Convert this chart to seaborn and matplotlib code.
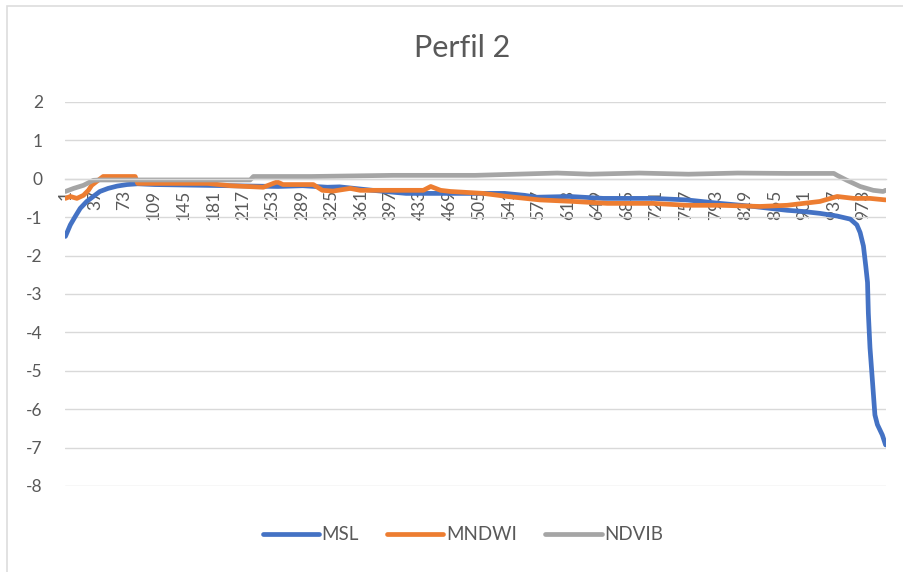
import matplotlib
matplotlib.use("Agg")
import matplotlib.pyplot as plt
import pandas as pd
import seaborn as sns
from matplotlib.patches import Rectangle
from matplotlib.lines import Line2D

# ---- data -----------------------------------------------------------------
title = "Perfil 2"
series_names = ["MSL", "MNDWI", "NDVIB"]
series_colors = ["#4472C4", "#ED7D31", "#A5A5A5"]
n_points = 1000

msl_cat = [1, 7, 13, 19, 27, 35, 43, 53, 64, 76, 89, 110, 140, 170, 200, 230,
           260, 290, 320, 335, 375, 416, 455, 495, 536, 560, 575, 615, 656,
           677, 717, 758, 798, 839, 859, 880, 899, 920, 941, 957, 965, 969,
           973, 976, 978, 979, 981, 984, 987, 990, 996, 1000]
msl_val = [-1.50, -1.20, -0.98, -0.77, -0.59, -0.46, -0.33, -0.25, -0.19,
           -0.15, -0.13, -0.15, -0.16, -0.17, -0.18, -0.19, -0.20, -0.18,
           -0.22, -0.21, -0.30, -0.38, -0.38, -0.38, -0.38, -0.43, -0.48,
           -0.46, -0.51, -0.51, -0.51, -0.55, -0.64, -0.72, -0.77, -0.82,
           -0.85, -0.90, -0.97, -1.05, -1.20, -1.40, -1.75, -2.30, -2.70,
           -3.50, -4.40, -5.27, -6.15, -6.40, -6.67, -6.93]

mndwi_cat = [1, 7, 15, 23, 29, 33, 39, 47, 86, 89, 174, 202, 242, 259, 266,
             303, 314, 327, 348, 360, 437, 446, 458, 470, 510, 539, 579, 620,
             661, 701, 717, 758, 799, 847, 880, 920, 941, 961, 981, 1000]
mndwi_val = [-0.51, -0.46, -0.51, -0.43, -0.30, -0.17, -0.07, 0.06, 0.06,
             -0.12, -0.12, -0.18, -0.22, -0.08, -0.15, -0.15, -0.30, -0.32,
             -0.25, -0.30, -0.30, -0.20, -0.30, -0.33, -0.38, -0.46, -0.55,
             -0.59, -0.64, -0.64, -0.64, -0.69, -0.69, -0.72, -0.69, -0.59,
             -0.46, -0.51, -0.51, -0.55]

ndvib_cat = [1, 11, 23, 35, 43, 100, 200, 226, 230, 300, 400, 500, 600, 640,
             700, 760, 820, 880, 937, 941, 953, 969, 985, 997, 1000]
ndvib_val = [-0.33, -0.25, -0.17, -0.04, -0.03, -0.03, -0.03, -0.03, 0.06,
             0.06, 0.09, 0.09, 0.15, 0.12, 0.15, 0.12, 0.15, 0.14, 0.14,
             0.09, -0.04, -0.20, -0.30, -0.33, -0.30]

x_tick_labels = ["1", "37", "73", "109", "145", "181", "217", "253", "289",
                 "325", "361", "397", "433", "469", "505", "541", "577", "613",
                 "649", "685", "721", "757", "793", "829", "865", "901", "937",
                 "973"]
y_ticks = [2, 1, 0, -1, -2, -3, -4, -5, -6, -7, -8]

# ---- long-form table for seaborn -------------------------------------------
frames = []
for name, cats, vals in zip(series_names,
                            [msl_cat, mndwi_cat, ndvib_cat],
                            [msl_val, mndwi_val, ndvib_val]):
    frames.append(pd.DataFrame({"cat": cats, "valor": vals, "serie": name}))
df = pd.concat(frames, ignore_index=True)

# ---- style ------------------------------------------------------------------
sns.set_theme(style="white")
plt.rcParams["font.family"] = ["Lato", "DejaVu Sans"]
text_color = "#595959"
grid_color = "#D9D9D9"

W, H = 904, 572
fig = plt.figure(figsize=(W / 100, H / 100), dpi=100)
fig.patch.set_facecolor("white")

# chart-area border (only its top and left edges fall inside the canvas)
fig.patches.append(Rectangle((7 / W, -1), 2, 2 - 6 / H, transform=fig.transFigure,
                             fill=False, edgecolor="#DDDDDD", lw=1.2))

ax = fig.add_axes([65 / W, 1 - 486 / H, 821 / W, (486 - 102) / H])
ax.set_facecolor("white")

sns.lineplot(data=df, x="cat", y="valor", hue="serie", hue_order=series_names,
             palette=series_colors, estimator=None, sort=True, linewidth=3.4,
             ax=ax, legend=False)
for ln in ax.get_lines():
    ln.set_solid_capstyle("round")
    ln.set_solid_joinstyle("round")

ax.set_xlim(0.5, n_points + 0.5)
ax.set_ylim(-8, 2)
ax.set_yticks(y_ticks)
ax.set_yticklabels([str(v) for v in y_ticks])
ax.set_xticks([int(t) for t in x_tick_labels])
ax.set_xticklabels(x_tick_labels)
ax.set_xlabel("")
ax.set_ylabel("")

ax.yaxis.grid(True, color=grid_color, lw=1.0)
ax.xaxis.grid(False)
ax.set_axisbelow(True)
for side in ["left", "right", "top"]:
    ax.spines[side].set_visible(False)
ax.spines["bottom"].set_position(("data", 0))
ax.spines["bottom"].set_color(grid_color)
ax.spines["bottom"].set_linewidth(1.0)

ax.tick_params(axis="y", length=0, pad=16, labelsize=12.5, labelcolor=text_color)
ax.tick_params(axis="x", length=0, pad=8, labelsize=12.5, labelcolor=text_color,
               labelrotation=90)

fig.text(462 / W, 1 - 48 / H, title, ha="center", va="center",
         fontsize=22, color=text_color)

handles = [Line2D([], [], color=c, lw=3.4, solid_capstyle="round")
           for c in series_colors]
fig.legend(handles, series_names, loc="center", ncol=3,
           bbox_to_anchor=(463 / W, 1 - 535 / H), frameon=False,
           fontsize=13.5, labelcolor=text_color, handlelength=3.0,
           handletextpad=0.15, columnspacing=1.5)

fig.savefig("out.png", dpi=100, facecolor="white")
